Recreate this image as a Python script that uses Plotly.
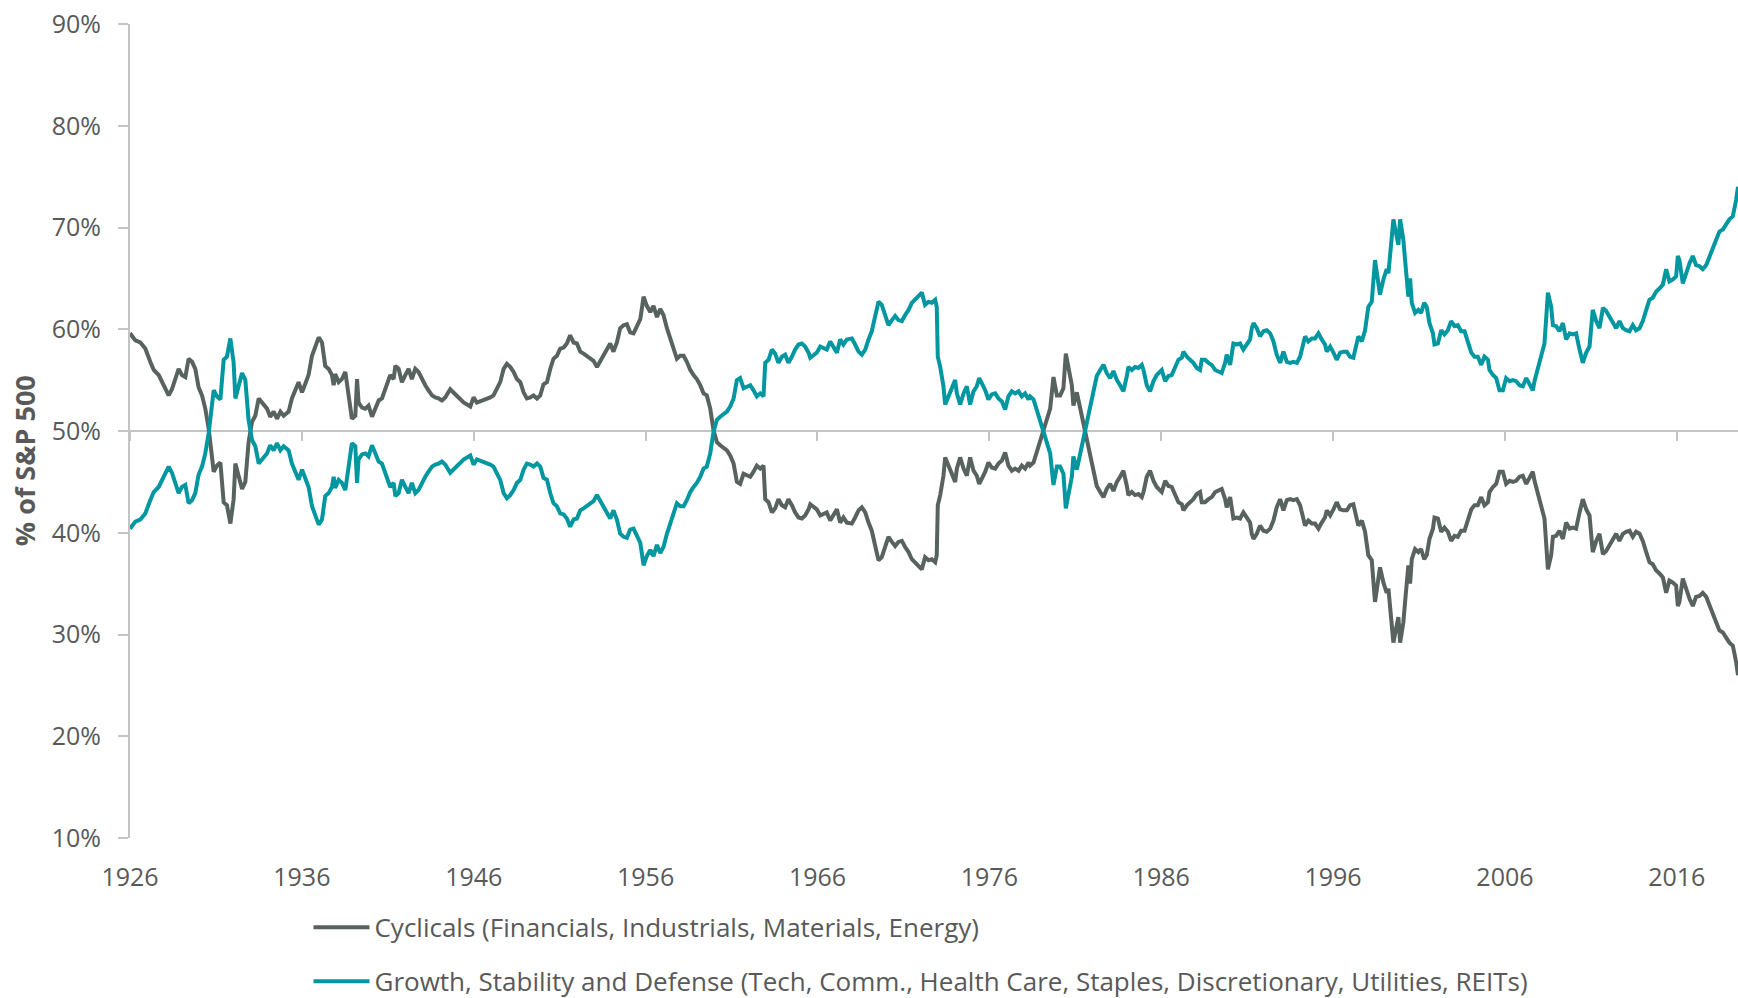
import plotly.graph_objects as go

# ---------------- data ----------------
years = [
    1926.00, 1926.31, 1926.60, 1926.89, 1927.18, 1927.38, 1927.67, 1927.86, 1928.06, 1928.25,
    1928.44, 1928.64, 1928.83, 1929.02, 1929.22, 1929.41, 1929.61, 1929.80, 1929.99, 1930.19,
    1930.38, 1930.58, 1930.77, 1930.87, 1931.06, 1931.26, 1931.45, 1931.64, 1931.84, 1932.03,
    1932.13, 1932.32, 1932.52, 1932.71, 1932.90, 1933.10, 1933.29, 1933.49, 1933.68, 1933.97,
    1934.16, 1934.36, 1934.55, 1934.75, 1934.94, 1935.23, 1935.42, 1935.62, 1935.81, 1936.01,
    1936.20, 1936.39, 1936.59, 1936.78, 1936.98, 1937.17, 1937.36, 1937.56, 1937.75, 1937.85,
    1937.94, 1938.14, 1938.33, 1938.53, 1938.72, 1938.91, 1939.11, 1939.21, 1939.30, 1939.50,
    1939.69, 1939.88, 1940.08, 1940.27, 1940.47, 1940.66, 1940.85, 1941.05, 1941.14, 1941.34,
    1941.44, 1941.63, 1941.82, 1942.02, 1942.21, 1942.40, 1942.60, 1942.79, 1942.99, 1943.18,
    1943.37, 1943.57, 1943.76, 1943.96, 1944.15, 1944.34,
    1944.63, 1945.02, 1945.41, 1945.80, 1945.99, 1946.18, 1946.57, 1946.96, 1947.15, 1947.35,
    1947.54, 1947.74, 1947.93, 1948.12, 1948.32, 1948.51, 1948.71, 1948.90, 1949.09, 1949.29,
    1949.48, 1949.68, 1949.87, 1950.06, 1950.26, 1950.45, 1950.64, 1950.84, 1951.03, 1951.23,
    1951.42, 1951.61, 1951.81, 1952.00, 1952.20, 1952.39, 1952.58, 1952.78, 1952.97, 1953.17,
    1953.36, 1953.55, 1953.75, 1953.94, 1954.13, 1954.33, 1954.52, 1954.72, 1954.91, 1955.10,
    1955.30, 1955.49, 1955.69, 1955.78, 1955.88, 1956.07, 1956.27, 1956.46, 1956.66, 1956.85,
    1957.04, 1957.24, 1957.43, 1957.63, 1957.82, 1958.01, 1958.21, 1958.40, 1958.60, 1958.79,
    1958.98, 1959.18, 1959.37, 1959.56, 1959.76, 1959.95, 1960.15, 1960.34, 1960.53, 1960.73,
    1960.92, 1961.12, 1961.31, 1961.50, 1961.70, 1961.89, 1962.09, 1962.28, 1962.47, 1962.67,
    1962.86, 1962.96, 1963.15, 1963.35,
    1963.54, 1963.73, 1963.93, 1964.12, 1964.31, 1964.51, 1964.70, 1964.90, 1965.09, 1965.28,
    1965.48, 1965.58, 1965.77, 1965.96, 1966.16, 1966.35, 1966.54, 1966.74, 1966.93, 1967.13,
    1967.32, 1967.51, 1967.71, 1968.00, 1968.19, 1968.39, 1968.58, 1968.78, 1968.97, 1969.16,
    1969.36, 1969.55, 1969.74, 1969.94, 1970.13, 1970.33, 1970.52, 1970.71, 1970.91, 1971.10,
    1971.30, 1971.49, 1971.68, 1971.88, 1972.07, 1972.26, 1972.46, 1972.65, 1972.85, 1972.94,
    1973.00, 1973.14, 1973.33, 1973.43, 1973.62, 1973.82, 1974.01, 1974.11, 1974.30, 1974.50,
    1974.69, 1974.88, 1975.08, 1975.27, 1975.41, 1975.56, 1975.76, 1975.95, 1976.14, 1976.34,
    1976.53, 1976.73, 1976.92, 1977.11, 1977.31, 1977.50, 1977.70, 1977.89, 1978.08, 1978.28,
    1978.37, 1978.57, 1978.76, 1978.96, 1979.15, 1979.34, 1979.54, 1979.73, 1979.93, 1980.12,
    1980.31, 1980.45, 1980.60, 1980.80, 1980.89, 1981.09, 1981.19, 1981.38, 1981.53, 1981.67,
    1981.86, 1982.06, 1982.25,
    1982.45, 1982.64, 1982.83, 1983.03, 1983.22, 1983.42, 1983.61, 1983.80, 1984.00, 1984.09,
    1984.29, 1984.48, 1984.68, 1984.87, 1984.97, 1985.16, 1985.35, 1985.55, 1985.74, 1986.03,
    1986.23, 1986.42, 1986.61, 1986.81, 1987.00, 1987.20, 1987.29, 1987.49, 1987.68, 1987.87,
    1988.07, 1988.26, 1988.36, 1988.55, 1988.75, 1988.94, 1989.14, 1989.33, 1989.52, 1989.72,
    1989.81, 1990.01, 1990.20, 1990.40, 1990.59, 1990.78, 1990.98, 1991.17, 1991.27, 1991.37,
    1991.56, 1991.75, 1991.95, 1992.14, 1992.34, 1992.53, 1992.72, 1992.92, 1993.11, 1993.31,
    1993.50, 1993.69, 1993.89, 1994.08, 1994.27, 1994.37, 1994.56, 1994.76, 1994.95, 1995.15,
    1995.34, 1995.53, 1995.63, 1995.83, 1996.02, 1996.21, 1996.41, 1996.60, 1996.80, 1996.99,
    1997.18, 1997.38, 1997.47, 1997.67, 1997.86, 1998.05, 1998.25, 1998.44, 1998.64, 1998.73,
    1998.93, 1999.12, 1999.22, 1999.31, 1999.51, 1999.61, 1999.80, 1999.90, 2000.09, 2000.19,
    2000.29, 2000.38, 2000.48, 2000.58, 2000.77, 2000.96,
    2001.12, 2001.30, 2001.45, 2001.61, 2001.81, 2001.90, 2002.10, 2002.29, 2002.48, 2002.68,
    2002.87, 2003.07, 2003.26, 2003.45, 2003.65, 2003.84, 2004.04, 2004.23, 2004.42, 2004.62,
    2004.81, 2005.01, 2005.10, 2005.30, 2005.49, 2005.68, 2005.88, 2006.07, 2006.27, 2006.46,
    2006.65, 2006.85, 2007.04, 2007.24, 2007.43, 2007.62, 2007.72, 2007.91, 2008.11, 2008.30,
    2008.50, 2008.69, 2008.79, 2008.98, 2009.17, 2009.37, 2009.56, 2009.76, 2009.95, 2010.14,
    2010.34, 2010.53, 2010.73, 2010.92, 2011.11, 2011.31, 2011.50, 2011.70, 2011.89, 2012.08,
    2012.28, 2012.47, 2012.66, 2012.86, 2013.05, 2013.25, 2013.44, 2013.63, 2013.83, 2014.02,
    2014.22, 2014.41, 2014.60, 2014.80, 2014.99, 2015.19, 2015.38, 2015.57, 2015.77, 2015.96,
    2016.06, 2016.15, 2016.35, 2016.54, 2016.74, 2016.93, 2017.12, 2017.32, 2017.51, 2017.71,
    2017.90, 2018.09, 2018.29, 2018.48, 2018.68, 2018.87, 2019.06, 2019.26, 2019.35, 2019.45,
    2019.56,
]

# Cyclicals (Financials, Industrials, Materials, Energy), % of S&P 500
cyclicals = [
    59.6, 58.9, 58.7, 58.1, 56.8, 56.0, 55.5, 54.8, 54.1, 53.5,
    54.1, 55.0, 56.1, 55.5, 55.3, 57.1, 56.8, 56.1, 54.3, 53.5,
    52.2, 50.2, 47.9, 46.0, 46.6, 46.9, 43.0, 42.7, 40.9, 43.3,
    46.8, 45.6, 44.3, 45.0, 48.9, 50.9, 51.5, 53.2, 52.8, 52.2,
    51.4, 51.9, 51.2, 51.9, 51.5, 51.9, 53.2, 54.1, 54.8, 53.8,
    54.6, 55.5, 57.4, 58.4, 59.2, 58.7, 56.4, 56.1, 55.5, 54.5,
    55.6, 54.8, 55.1, 55.8, 53.5, 51.2, 51.5, 55.1, 52.8, 52.3,
    52.2, 52.5, 51.4, 52.2, 53.0, 53.2, 54.1, 54.8, 55.5, 55.1,
    56.4, 56.1, 54.8, 55.5, 56.1, 55.1, 56.1, 55.8, 55.1, 54.5,
    54.0, 53.5, 53.3, 53.2, 53.0, 53.3,
    54.1, 53.5, 52.8, 52.4, 53.3, 52.8, 53.0, 53.3, 53.5, 54.1,
    54.8, 56.1, 56.6, 56.3, 55.8, 55.1, 54.8, 53.8, 53.2, 53.3,
    53.5, 53.2, 53.5, 54.6, 54.8, 56.1, 57.1, 57.4, 58.1, 58.2,
    58.6, 59.4, 58.7, 58.6, 57.8, 57.6, 57.4, 57.1, 56.9, 56.3,
    56.9, 57.3, 58.1, 58.6, 57.8, 58.7, 60.1, 60.4, 60.5, 59.7,
    59.6, 60.4, 61.0, 62.0, 63.2, 62.3, 61.7, 62.3, 61.2, 62.0,
    61.4, 60.1, 59.1, 57.8, 57.1, 57.4, 57.4, 56.8, 56.0, 55.5,
    55.1, 54.5, 53.7, 53.5, 52.2, 50.1, 48.9, 48.6, 48.4, 48.1,
    47.6, 46.8, 45.0, 44.8, 45.8, 45.6, 45.5, 46.0, 46.6, 46.3,
    46.6, 43.3, 43.0, 42.0,
    42.4, 43.3, 42.7, 42.5, 43.3, 42.7, 42.0, 41.5, 41.4, 41.7,
    42.3, 42.8, 42.5, 42.3, 41.7, 41.9, 42.0, 41.2, 41.7, 42.3,
    41.0, 41.5, 41.0, 40.9, 41.5, 42.2, 42.5, 42.0, 41.0, 40.2,
    38.7, 37.3, 37.6, 38.7, 39.6, 39.1, 38.7, 39.1, 39.2, 38.6,
    38.1, 37.4, 37.1, 36.8, 36.4, 37.6, 37.3, 37.4, 37.1, 37.8,
    42.7, 43.7, 45.6, 47.4, 46.6, 45.6, 45.0, 46.3, 47.4, 46.3,
    45.6, 47.4, 46.1, 45.6, 44.8, 45.3, 46.0, 46.9, 46.4, 46.3,
    46.8, 47.1, 47.9, 46.6, 46.1, 46.3, 46.1, 46.6, 46.3, 46.9,
    46.6, 46.9, 47.9, 48.9, 50.1, 50.9, 52.2, 55.3, 53.5, 53.5,
    54.2, 57.6, 56.1, 54.5, 52.5, 53.8, 53.0, 51.5, 50.2, 48.9,
    47.8, 46.0, 44.6,
    44.0, 43.5, 44.3, 44.8, 44.1, 45.0, 45.5, 46.1, 44.6, 43.7,
    44.0, 43.7, 43.8, 43.5, 44.0, 45.5, 46.1, 45.1, 44.5, 44.0,
    45.1, 44.6, 44.5, 43.7, 43.0, 42.8, 42.2, 42.7, 43.0, 43.3,
    43.8, 44.0, 43.0, 43.0, 43.3, 43.5, 44.0, 44.2, 44.3, 43.3,
    42.5, 43.5, 41.4, 41.5, 41.4, 42.0, 41.5, 41.0, 39.9, 39.4,
    39.9, 40.7, 40.2, 40.1, 40.4, 41.2, 42.5, 43.3, 42.2, 43.2,
    43.3, 43.2, 43.3, 42.7, 41.4, 40.7, 41.2, 40.9, 40.9, 40.4,
    41.0, 41.5, 42.2, 41.7, 42.3, 43.0, 42.3, 42.2, 42.2, 42.7,
    42.8, 41.5, 40.7, 41.2, 40.1, 37.8, 37.3, 33.2, 36.1, 36.6,
    35.1, 34.1, 34.5, 32.5, 29.2, 30.1, 31.7, 29.2, 31.2, 33.2,
    34.8, 36.8, 35.0, 37.4, 38.4, 38.1,
    38.4, 37.4, 37.8, 39.4, 40.4, 41.5, 41.4, 40.1, 40.5, 40.1,
    39.2, 39.7, 39.6, 40.2, 40.2, 41.2, 42.3, 42.7, 42.7, 43.5,
    42.7, 43.0, 44.0, 44.5, 44.8, 46.0, 46.0, 44.8, 45.1, 45.0,
    45.1, 45.5, 45.6, 44.8, 45.5, 46.0, 45.1, 44.0, 42.7, 41.4,
    36.4, 37.8, 39.6, 39.7, 40.2, 39.4, 41.0, 40.4, 40.5, 40.4,
    42.0, 43.3, 42.3, 41.7, 38.1, 39.2, 39.9, 37.9, 38.2, 38.7,
    39.4, 39.9, 39.2, 39.9, 40.1, 40.2, 39.6, 40.1, 39.9, 39.2,
    38.1, 37.1, 36.9, 36.3, 36.0, 35.6, 34.1, 35.3, 35.1, 34.8,
    32.8, 33.2, 35.5, 34.5, 33.5, 32.8, 33.7, 33.8, 34.1, 33.7,
    32.8, 32.0, 31.2, 30.4, 30.2, 29.7, 29.2, 28.9, 28.2, 27.3,
    26.0,
]

# Growth, Stability and Defense, % of S&P 500
growth = [
    40.4, 41.1, 41.3, 41.9, 43.2, 44.0, 44.5, 45.2, 45.9, 46.5,
    45.9, 45.0, 43.9, 44.5, 44.7, 42.9, 43.2, 43.9, 45.7, 46.5,
    47.8, 49.8, 52.1, 54.0, 53.4, 53.1, 57.0, 57.3, 59.1, 56.7,
    53.2, 54.4, 55.7, 55.0, 51.1, 49.1, 48.5, 46.8, 47.2, 47.8,
    48.6, 48.1, 48.8, 48.1, 48.5, 48.1, 46.8, 45.9, 45.2, 46.2,
    45.4, 44.5, 42.6, 41.6, 40.8, 41.3, 43.6, 43.9, 44.5, 45.5,
    44.4, 45.2, 44.9, 44.2, 46.5, 48.8, 48.5, 44.9, 47.2, 47.7,
    47.8, 47.5, 48.6, 47.8, 47.0, 46.8, 45.9, 45.2, 44.5, 44.9,
    43.6, 43.9, 45.2, 44.5, 43.9, 44.9, 43.9, 44.2, 44.9, 45.5,
    46.0, 46.5, 46.7, 46.8, 47.0, 46.7,
    45.9, 46.5, 47.2, 47.6, 46.7, 47.2, 47.0, 46.7, 46.5, 45.9,
    45.2, 43.9, 43.4, 43.7, 44.2, 44.9, 45.2, 46.2, 46.8, 46.7,
    46.5, 46.8, 46.5, 45.4, 45.2, 43.9, 42.9, 42.6, 41.9, 41.8,
    41.4, 40.6, 41.3, 41.4, 42.2, 42.4, 42.6, 42.9, 43.1, 43.7,
    43.1, 42.7, 41.9, 41.4, 42.2, 41.3, 39.9, 39.6, 39.5, 40.3,
    40.4, 39.6, 39.0, 38.0, 36.8, 37.7, 38.3, 37.7, 38.8, 38.0,
    38.6, 39.9, 40.9, 42.2, 42.9, 42.6, 42.6, 43.2, 44.0, 44.5,
    44.9, 45.5, 46.3, 46.5, 47.8, 49.9, 51.1, 51.4, 51.6, 51.9,
    52.4, 53.2, 55.0, 55.2, 54.2, 54.4, 54.5, 54.0, 53.4, 53.7,
    53.4, 56.7, 57.0, 58.0,
    57.6, 56.7, 57.3, 57.5, 56.7, 57.3, 58.0, 58.5, 58.6, 58.3,
    57.7, 57.2, 57.5, 57.7, 58.3, 58.1, 58.0, 58.8, 58.3, 57.7,
    59.0, 58.5, 59.0, 59.1, 58.5, 57.8, 57.5, 58.0, 59.0, 59.8,
    61.3, 62.7, 62.4, 61.3, 60.4, 60.9, 61.3, 60.9, 60.8, 61.4,
    61.9, 62.6, 62.9, 63.2, 63.6, 62.4, 62.7, 62.6, 62.9, 62.2,
    57.3, 56.3, 54.4, 52.6, 53.4, 54.4, 55.0, 53.7, 52.6, 53.7,
    54.4, 52.6, 53.9, 54.4, 55.2, 54.7, 54.0, 53.1, 53.6, 53.7,
    53.2, 52.9, 52.1, 53.4, 53.9, 53.7, 53.9, 53.4, 53.7, 53.1,
    53.4, 53.1, 52.1, 51.1, 49.9, 49.1, 47.8, 44.7, 46.5, 46.5,
    45.8, 42.4, 43.9, 45.5, 47.5, 46.2, 47.0, 48.5, 49.8, 51.1,
    52.2, 54.0, 55.4,
    56.0, 56.5, 55.7, 55.2, 55.9, 55.0, 54.5, 53.9, 55.4, 56.3,
    56.0, 56.3, 56.2, 56.5, 56.0, 54.5, 53.9, 54.9, 55.5, 56.0,
    54.9, 55.4, 55.5, 56.3, 57.0, 57.2, 57.8, 57.3, 57.0, 56.7,
    56.2, 56.0, 57.0, 57.0, 56.7, 56.5, 56.0, 55.8, 55.7, 56.7,
    57.5, 56.5, 58.6, 58.5, 58.6, 58.0, 58.5, 59.0, 60.1, 60.6,
    60.1, 59.3, 59.8, 59.9, 59.6, 58.8, 57.5, 56.7, 57.8, 56.8,
    56.7, 56.8, 56.7, 57.3, 58.6, 59.3, 58.8, 59.1, 59.1, 59.6,
    59.0, 58.5, 57.8, 58.3, 57.7, 57.0, 57.7, 57.8, 57.8, 57.3,
    57.2, 58.5, 59.3, 58.8, 59.9, 62.2, 62.7, 66.8, 63.9, 63.4,
    64.9, 65.9, 65.5, 67.5, 70.8, 69.9, 68.3, 70.8, 68.8, 66.8,
    65.2, 63.2, 65.0, 62.6, 61.6, 61.9,
    61.6, 62.6, 62.2, 60.6, 59.6, 58.5, 58.6, 59.9, 59.5, 59.9,
    60.8, 60.3, 60.4, 59.8, 59.8, 58.8, 57.7, 57.3, 57.3, 56.5,
    57.3, 57.0, 56.0, 55.5, 55.2, 54.0, 54.0, 55.2, 54.9, 55.0,
    54.9, 54.5, 54.4, 55.2, 54.5, 54.0, 54.9, 56.0, 57.3, 58.6,
    63.6, 62.2, 60.4, 60.3, 59.8, 60.6, 59.0, 59.6, 59.5, 59.6,
    58.0, 56.7, 57.7, 58.3, 61.9, 60.8, 60.1, 62.1, 61.8, 61.3,
    60.6, 60.1, 60.8, 60.1, 59.9, 59.8, 60.4, 59.9, 60.1, 60.8,
    61.9, 62.9, 63.1, 63.7, 64.0, 64.4, 65.9, 64.7, 64.9, 65.2,
    67.2, 66.8, 64.5, 65.5, 66.5, 67.2, 66.3, 66.2, 65.9, 66.3,
    67.2, 68.0, 68.8, 69.6, 69.8, 70.3, 70.8, 71.1, 71.8, 72.7,
    74.0,
]

x_tick_years = [1926, 1936, 1946, 1956, 1966, 1976, 1986, 1996, 2006, 2016]
y_tick_values = [10, 20, 30, 40, 50, 60, 70, 80, 90]
y_tick_labels = ["10%", "20%", "30%", "40%", "50%", "60%", "70%", "80%", "90%"]

series_names = [
    "Cyclicals (Financials, Industrials, Materials, Energy)",
    "Growth, Stability and Defense (Tech, Comm., Health Care, Staples, Discretionary, Utilities, REITs)",
]
y_title = "% of S&P 500"

# ---------------- styling ----------------
GRAY = "#58625f"
TEAL = "#0097a0"
AXIS = "#c4c4c4"
TEXT = "#595959"
FONT = "Open Sans"
X_RANGE = [1926, 2019.56]

fig = go.Figure()
fig.add_trace(go.Scatter(
    x=years, y=cyclicals, mode="lines", name=series_names[0],
    line=dict(color=GRAY, width=4), legendgroup="a",
    xaxis="x", yaxis="y", hoverinfo="skip",
))
fig.add_trace(go.Scatter(
    x=years, y=growth, mode="lines", name=series_names[1],
    line=dict(color=TEAL, width=4), legendgroup="b",
    xaxis="x2", yaxis="y", hoverinfo="skip",
))

fig.update_layout(
    width=1738, height=998,
    margin=dict(l=130, r=0, t=24, b=160, pad=0, autoexpand=False),
    paper_bgcolor="white", plot_bgcolor="white",
    font=dict(family=FONT, size=25, color=TEXT),
    showlegend=True,
    legend=dict(
        x=0.111, y=-0.081, xanchor="left", yanchor="top",
        font=dict(family=FONT, size=26, color=TEXT),
        tracegroupgap=17, bgcolor="rgba(0,0,0,0)",
        itemwidth=56,
    ),
    xaxis=dict(
        range=X_RANGE, tickmode="array", tickvals=x_tick_years,
        showline=False, showgrid=False, zeroline=False, ticks="",
        ticklabelstandoff=22, tickfont=dict(family=FONT, size=25, color=TEXT),
    ),
    xaxis2=dict(
        range=X_RANGE, overlaying="x", anchor="free", position=0.5,
        tickmode="array", tickvals=x_tick_years,
        showline=True, linecolor=AXIS, linewidth=2,
        ticks="outside", ticklen=9, tickwidth=2, tickcolor=AXIS,
        showticklabels=False, showgrid=False, zeroline=False,
        layer="below traces",
    ),
    yaxis=dict(
        range=[10, 90], tickmode="array", tickvals=y_tick_values, ticktext=y_tick_labels,
        showline=True, linecolor=AXIS, linewidth=2,
        ticks="outside", ticklen=10, tickwidth=2, tickcolor=AXIS,
        showgrid=False, zeroline=False, ticklabelstandoff=12,
        tickfont=dict(family=FONT, size=25, color=TEXT),
    ),
    annotations=[dict(
        text="<b>" + y_title + "</b>", textangle=-90,
        xref="paper", yref="paper", x=-0.0659, y=0.463,
        xanchor="center", yanchor="middle", showarrow=False,
        font=dict(family=FONT, size=27, color=TEXT),
    )],
)

fig.write_html("out.html", config={"displayModeBar": False},
               post_script="document.body.style.margin='0';")
